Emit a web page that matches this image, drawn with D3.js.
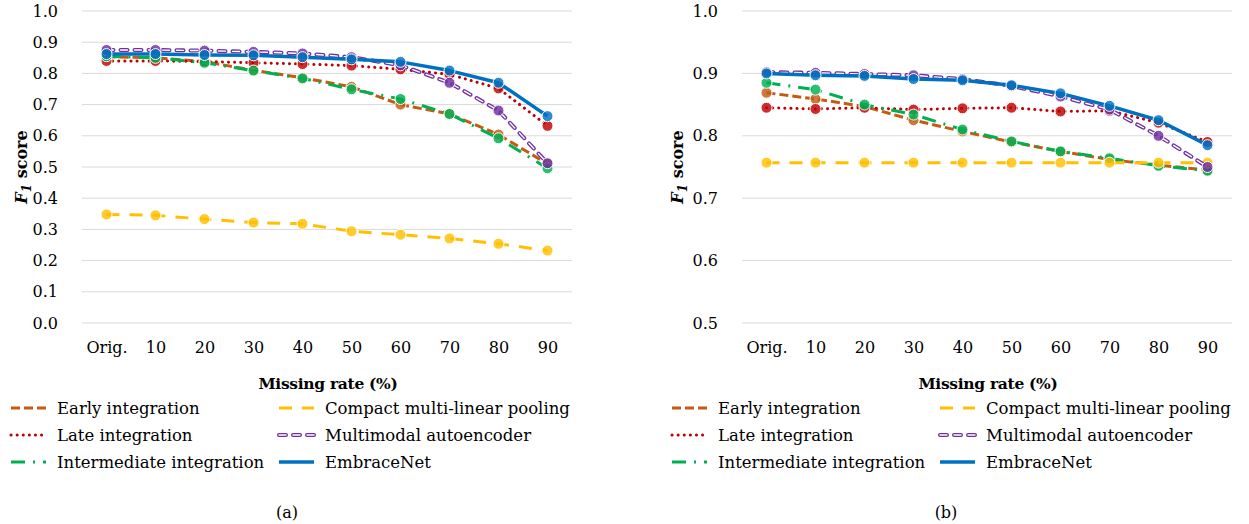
<!DOCTYPE html>
<html>
<head>
<meta charset="utf-8">
<script src="https://cdn.jsdelivr.net/npm/d3@7"></script>
<style>
  body { margin: 0; background: #fff; }
  text { font-family: "DejaVu Serif", serif; fill: #000; }
</style>
</head>
<body>
<svg id="chart" width="1249" height="524"></svg>
<script>
const categories = ['Orig.', '10', '20', '30', '40', '50', '60', '70', '80', '90'];
const seriesNames = ['Early integration', 'Late integration', 'Intermediate integration',
  'Compact multi-linear pooling', 'Multimodal autoencoder', 'EmbraceNet'];

// (a)
const earlyA = [0.853, 0.850, 0.838, 0.810, 0.786, 0.757, 0.700, 0.670, 0.604, 0.510];
const lateA = [0.840, 0.840, 0.838, 0.834, 0.830, 0.825, 0.813, 0.797, 0.752, 0.632];
const interA = [0.855, 0.850, 0.834, 0.809, 0.784, 0.749, 0.718, 0.670, 0.592, 0.496];
const compactA = [0.348, 0.345, 0.333, 0.322, 0.318, 0.294, 0.283, 0.271, 0.254, 0.232];
const maeA = [0.875, 0.875, 0.873, 0.869, 0.864, 0.852, 0.826, 0.770, 0.681, 0.512];
const embraceA = [0.862, 0.862, 0.859, 0.858, 0.852, 0.845, 0.837, 0.809, 0.770, 0.663];

// (b)
const earlyB = [0.869, 0.859, 0.847, 0.825, 0.807, 0.790, 0.775, 0.762, 0.753, 0.745];
const lateB = [0.845, 0.843, 0.845, 0.842, 0.844, 0.845, 0.839, 0.840, 0.821, 0.790];
const interB = [0.885, 0.874, 0.850, 0.834, 0.810, 0.791, 0.775, 0.764, 0.752, 0.744];
const compactB = [0.757, 0.757, 0.757, 0.757, 0.757, 0.757, 0.757, 0.757, 0.757, 0.757];
const maeB = [0.902, 0.901, 0.899, 0.897, 0.891, 0.880, 0.863, 0.842, 0.800, 0.750];
const embraceB = [0.900, 0.897, 0.896, 0.891, 0.889, 0.881, 0.868, 0.848, 0.825, 0.785];

const ticksA = [0, 0.1, 0.2, 0.3, 0.4, 0.5, 0.6, 0.7, 0.8, 0.9, 1.0];
const ticksB = [0.5, 0.6, 0.7, 0.8, 0.9, 1.0];

// line styles per series
const styles = [
  { color: '#C55A11', width: 3, dash: '9,4', cap: 'butt' },
  { color: '#C00000', width: 3, dash: '0.1,6', cap: 'round' },
  { color: '#00B050', width: 3, dash: '14,8,2,8', cap: 'butt' },
  { color: '#FFC000', width: 3, dash: '13,10', cap: 'butt' },
  { color: '#7030A0', width: 4, dash: '7,7', cap: 'round', hollow: true },
  { color: '#0070C0', width: 3.5, dash: null, cap: 'butt' }
];

const svg = d3.select('#chart');

function drawChart(opts) {
  const g = svg.append('g');
  const x = d3.scalePoint().domain(categories).range([opts.x0, opts.x1]).padding(0.5);
  const y = d3.scaleLinear().domain(opts.domain).range([323, 11]);

  // grid
  g.selectAll('.grid').data(opts.ticks).enter().append('line')
    .attr('x1', opts.x0).attr('x2', opts.x1)
    .attr('y1', d => y(d)).attr('y2', d => y(d))
    .attr('stroke', '#D9D9D9').attr('stroke-width', 1);

  // y axis
  const yAxis = g.append('g')
    .attr('transform', `translate(${opts.x0},0)`)
    .call(d3.axisLeft(y).tickValues(opts.ticks).tickFormat(d3.format('.1f')).tickSize(0).tickPadding(24));
  yAxis.select('.domain').remove();
  yAxis.selectAll('text').attr('font-size', 16).attr('font-family', '"DejaVu Serif", serif').attr('fill', '#111');

  // x axis
  const xAxis = g.append('g')
    .attr('transform', 'translate(0,323)')
    .call(d3.axisBottom(x).tickSize(0).tickPadding(19));
  xAxis.select('.domain').remove();
  xAxis.selectAll('text').attr('font-size', 16).attr('font-family', '"DejaVu Serif", serif').attr('fill', '#111');

  // axis titles
  g.append('text')
    .attr('x', (opts.x0 + opts.x1) / 2 + 1).attr('y', 389)
    .attr('text-anchor', 'middle').attr('font-weight', 'bold').attr('font-size', 15.5)
    .attr('letter-spacing', -0.3)
    .text('Missing rate (%)');

  const yt = g.append('text')
    .attr('transform', `translate(${opts.titleX},167) rotate(-90)`)
    .attr('text-anchor', 'middle').attr('font-weight', 'bold').attr('font-size', 16);
  yt.append('tspan').attr('font-style', 'italic').text('F');
  yt.append('tspan').attr('font-style', 'italic').attr('font-size', 12).attr('dy', 4).text('1');
  yt.append('tspan').attr('dy', -4).text(' score');

  const line = d3.line().x((d, i) => x(categories[i])).y(d => y(d));

  opts.series.forEach((vals, si) => {
    const st = styles[si];
    const s = g.append('g');
    s.append('path').datum(vals)
      .attr('d', line).attr('fill', 'none')
      .attr('stroke', st.color).attr('stroke-width', st.width)
      .attr('stroke-dasharray', st.dash).attr('stroke-linecap', st.cap)
      .attr('stroke-linejoin', 'round');
    if (st.hollow) {
      s.append('path').datum(vals)
        .attr('d', line).attr('fill', 'none')
        .attr('stroke', '#fff').attr('stroke-width', 1.4)
        .attr('stroke-dasharray', st.dash).attr('stroke-linecap', 'round');
    }
    s.selectAll('circle').data(vals).enter().append('circle')
      .attr('cx', (d, i) => x(categories[i])).attr('cy', d => y(d))
      .attr('r', 5.5)
      .attr('fill', st.color).attr('fill-opacity', 0.82)
      .attr('stroke', '#fff').attr('stroke-width', 1);
  });

  // legend
  const rows = [408, 435, 462];
  seriesNames.forEach((name, si) => {
    const st = styles[si];
    const col = Math.floor(si / 3), row = si % 3;
    const lx = opts.legendX + col * 268;
    const ly = rows[row];
    const lg = g.append('g');
    lg.append('line')
      .attr('x1', lx).attr('x2', lx + 35).attr('y1', ly).attr('y2', ly)
      .attr('stroke', st.color).attr('stroke-width', st.width)
      .attr('stroke-dasharray', st.dash).attr('stroke-linecap', st.cap);
    if (st.hollow) {
      lg.append('line')
        .attr('x1', lx).attr('x2', lx + 35).attr('y1', ly).attr('y2', ly)
        .attr('stroke', '#fff').attr('stroke-width', 1.4)
        .attr('stroke-dasharray', st.dash).attr('stroke-linecap', 'round');
    }
    lg.append('text')
      .attr('x', lx + 46).attr('y', ly).attr('dy', '0.35em')
      .attr('font-size', 16.5).attr('fill', '#111').text(name);
  });

  svg.append('text')
    .attr('x', opts.captionX).attr('y', 518)
    .attr('text-anchor', 'middle').attr('font-size', 16)
    .attr('font-family', '"Liberation Serif", serif')
    .text(opts.caption);
}

drawChart({
  x0: 82, x1: 572, domain: [0, 1], ticks: ticksA, titleX: 27,
  series: [earlyA, lateA, interA, compactA, maeA, embraceA],
  legendX: 11, captionX: 287, caption: '(a)'
});

drawChart({
  x0: 742, x1: 1232, domain: [0.5, 1], ticks: ticksB, titleX: 683,
  series: [earlyB, lateB, interB, compactB, maeB, embraceB],
  legendX: 672, captionX: 946, caption: '(b)'
});
</script>
</body>
</html>
